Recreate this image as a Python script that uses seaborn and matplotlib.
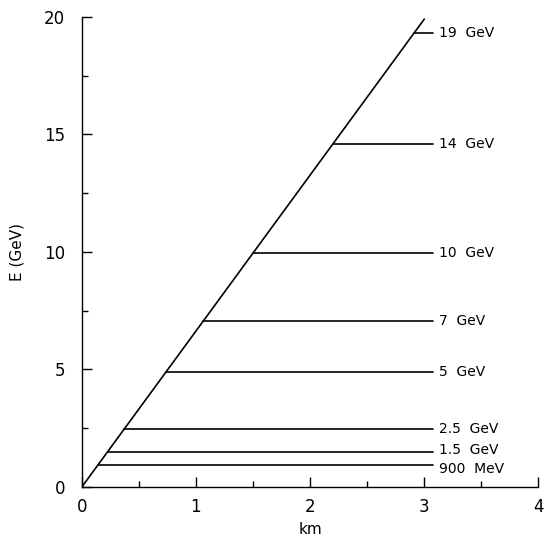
import numpy as np
import pandas as pd
import matplotlib.pyplot as plt
import seaborn as sns
from matplotlib.ticker import MultipleLocator

# diagonal energy-vs-distance line (km, GeV)
diag_km = [0.0, 3.0]
diag_e = [0.0, 19.9]

# horizontal levels as drawn and their labels
level_e = [0.94, 1.5, 2.48, 4.9, 7.05, 9.96, 14.6, 19.3]
level_labels = ["900  MeV", "1.5  GeV", "2.5  GeV", "5  GeV", "7  GeV",
                "10  GeV", "14  GeV", "19  GeV"]
level_end_km = 3.08
# small vertical nudges (points) so the bottom labels don't collide
label_nudge = [-3, 1, 0, 0, 0, 0, 0, 0]

sns.set_style("ticks")
plt.rcParams["font.family"] = ["DejaVu Sans"]
plt.rcParams["text.color"] = "black"
plt.rcParams["axes.labelcolor"] = "black"
plt.rcParams["xtick.color"] = "black"
plt.rcParams["ytick.color"] = "black"
plt.rcParams["axes.edgecolor"] = "black"

# build segments: each level starts on the diagonal and runs to level_end_km
slope = diag_km[1] / diag_e[1]
rows = []
for e, lab in zip(level_e, level_labels):
    rows.append({"km": e * slope, "E": e, "seg": lab})
    rows.append({"km": level_end_km, "E": e, "seg": lab})
segs = pd.DataFrame(rows)
diag = pd.DataFrame({"km": diag_km, "E": diag_e})

fig = plt.figure(figsize=(5.45, 5.4), dpi=100)
ax = fig.add_axes([0.150, 0.098, 0.838, 0.871])

sns.lineplot(data=diag, x="km", y="E", color="black", linewidth=1.2, ax=ax)
sns.lineplot(data=segs, x="km", y="E", units="seg", estimator=None,
             color="black", linewidth=1.2, ax=ax)

for e, lab, dy in zip(level_e, level_labels, label_nudge):
    ax.annotate(lab, (level_end_km, e), xytext=(4, dy), textcoords="offset points",
                va="center", ha="left", fontsize=10)

ax.set_xlim(0, 4)
ax.set_ylim(0, 20)
ax.xaxis.set_major_locator(MultipleLocator(1))
ax.xaxis.set_minor_locator(MultipleLocator(0.5))
ax.yaxis.set_major_locator(MultipleLocator(5))
ax.yaxis.set_minor_locator(MultipleLocator(2.5))
ax.tick_params(which="major", direction="in", length=7, width=1.0, labelsize=12, pad=8)
ax.tick_params(which="minor", direction="in", length=4, width=1.0)
ax.tick_params(axis="y", pad=12)

ax.set_xlabel("km", fontsize=11, labelpad=4)
ax.set_ylabel("E (GeV)", fontsize=11, labelpad=14)

for s in ["top", "right"]:
    ax.spines[s].set_visible(False)
for s in ["left", "bottom"]:
    ax.spines[s].set_linewidth(1.0)

fig.savefig("out.png", dpi=100)
